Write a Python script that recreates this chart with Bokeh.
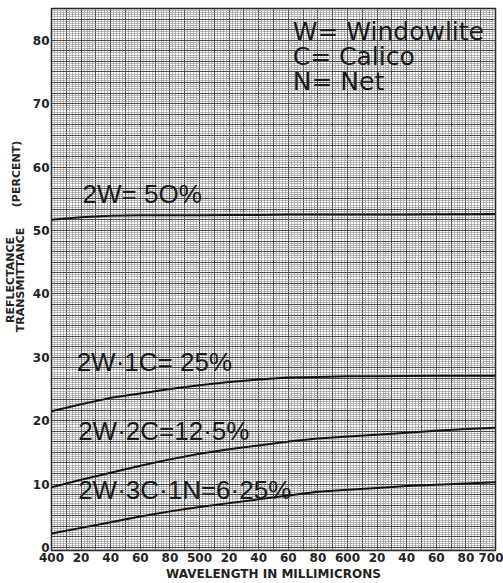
import math
from bokeh.plotting import figure
from bokeh.layouts import row
from bokeh.models import Label, FixedTicker, SingleIntervalTicker, Range1d
from bokeh.embed import file_html
from bokeh.resources import INLINE

# ---- data ----
wavelength = [400, 420, 440, 460, 480, 500, 520, 540, 560, 580, 600, 620, 640, 660, 680, 700]
curve_2w = [51.7, 52.1, 52.3, 52.4, 52.4, 52.4, 52.45, 52.45, 52.5, 52.5, 52.5, 52.5, 52.5, 52.55, 52.55, 52.6]
curve_2w_1c = [21.5, 22.6, 23.6, 24.3, 25.0, 25.6, 26.1, 26.5, 26.8, 26.9, 27.0, 27.0, 27.05, 27.1, 27.1, 27.1]
curve_2w_2c = [9.5, 10.7, 11.8, 12.9, 13.9, 14.8, 15.5, 16.1, 16.7, 17.2, 17.5, 17.8, 18.1, 18.4, 18.7, 18.9]
curve_2w_3c_1n = [2.2, 3.1, 4.0, 4.9, 5.7, 6.4, 7.0, 7.6, 8.2, 8.8, 9.1, 9.4, 9.7, 9.9, 10.1, 10.3]

x_ticks = [400, 420, 440, 460, 480, 500, 520, 540, 560, 580, 600, 620, 640, 660, 680, 700]
x_tick_labels = ["400", "20", "40", "60", "80", "500", "20", "40", "60", "80",
                 "600", "20", "40", "60", "80", "700"]
y_ticks = [0, 10, 20, 30, 40, 50, 60, 70, 80]

curve_labels = ["2W= 5O%", "2W\u00b71C= 25%", "2W\u00b72C=12\u00b75%", "2W\u00b73C\u00b71N=6\u00b725%"]
curve_label_x = [421, 417, 418, 418]
curve_label_y = [55.8, 29.2, 18.4, 9.1]
key_labels = ["W= Windowlite", "C= Calico", "N= Net"]
key_label_y = [81.3, 77.4, 73.5]

FONT = "DejaVu Sans"
H = 583

# ---- narrow strip carrying the rotated y-axis title ----
strip = figure(width=29, height=H, x_range=Range1d(0, 29), y_range=Range1d(H, 0),
               output_backend="svg", toolbar_location=None,
               x_axis_type=None, y_axis_type=None, min_border=0)
strip.outline_line_color = None
strip.grid.visible = False
strip.background_fill_color = "white"
strip.border_fill_color = "white"
for txt, x, y in (("REFLECTANCE", 10, 292), ("TRANSMITTANCE", 20, 292), ("(PERCENT)", 15.5, 178)):
    strip.add_layout(Label(x=x, y=y, text=txt, angle=math.pi / 2, text_font=FONT,
                           text_font_size="11px", text_font_style="bold", text_color="#222222",
                           text_align="center", text_baseline="middle"))

# ---- main chart ----
p = figure(width=474, height=H,
           x_range=Range1d(400, 700), y_range=Range1d(-0.47, 85.0),
           output_backend="svg", toolbar_location=None,
           min_border_left=22, min_border_right=8, min_border_top=8, min_border_bottom=30)

p.background_fill_color = "white"
p.border_fill_color = "white"
p.outline_line_color = "#222222"
p.outline_line_width = 1.5

# graph-paper grid
p.xgrid[0].ticker = SingleIntervalTicker(interval=10, num_minor_ticks=5)
p.ygrid[0].ticker = SingleIntervalTicker(interval=10 / 6, num_minor_ticks=5)
for g in (p.xgrid[0], p.ygrid[0]):
    g.grid_line_color = "#4a4a4a"
    g.grid_line_width = 1
    g.minor_grid_line_color = "#8c8c8c"
    g.minor_grid_line_width = 0.6

# axes
p.xaxis.ticker = FixedTicker(ticks=x_ticks)
p.xaxis.major_label_overrides = {t: l for t, l in zip(x_ticks, x_tick_labels)}
p.yaxis.ticker = FixedTicker(ticks=y_ticks)
for ax in (p.xaxis[0], p.yaxis[0]):
    ax.axis_line_color = None
    ax.major_tick_line_color = None
    ax.minor_tick_line_color = None
    ax.major_tick_out = 0
    ax.major_tick_in = 0
    ax.minor_tick_out = 0
    ax.minor_tick_in = 0
    ax.major_label_text_font = FONT
    ax.major_label_text_font_size = "12px"
    ax.major_label_text_font_style = "bold"
    ax.major_label_text_color = "#222222"
    ax.major_label_standoff = 2
p.xaxis.axis_label = "WAVELENGTH IN MILLIMICRONS"
p.xaxis.axis_label_text_font = FONT
p.xaxis.axis_label_text_font_size = "12px"
p.xaxis.axis_label_text_font_style = "bold"
p.xaxis.axis_label_text_color = "#222222"
p.xaxis.axis_label_standoff = 2

# curves
for ys in (curve_2w, curve_2w_1c, curve_2w_2c, curve_2w_3c_1n):
    p.line(wavelength, ys, line_color="#111111", line_width=2)

# curve labels
for txt, x, y in zip(curve_labels, curve_label_x, curve_label_y):
    p.add_layout(Label(x=x, y=y, text=txt, text_font="Liberation Sans", text_font_size="26px",
                       text_color="#1a1a1a", text_baseline="middle", text_align="left"))

for txt, y in zip(key_labels, key_label_y):
    p.add_layout(Label(x=563, y=y, text=txt, text_font=FONT, text_font_size="25px",
                       text_color="#1a1a1a", text_baseline="middle", text_align="left"))

layout = row(strip, p, spacing=0)
open("out.html", "w").write(file_html(layout, INLINE))
